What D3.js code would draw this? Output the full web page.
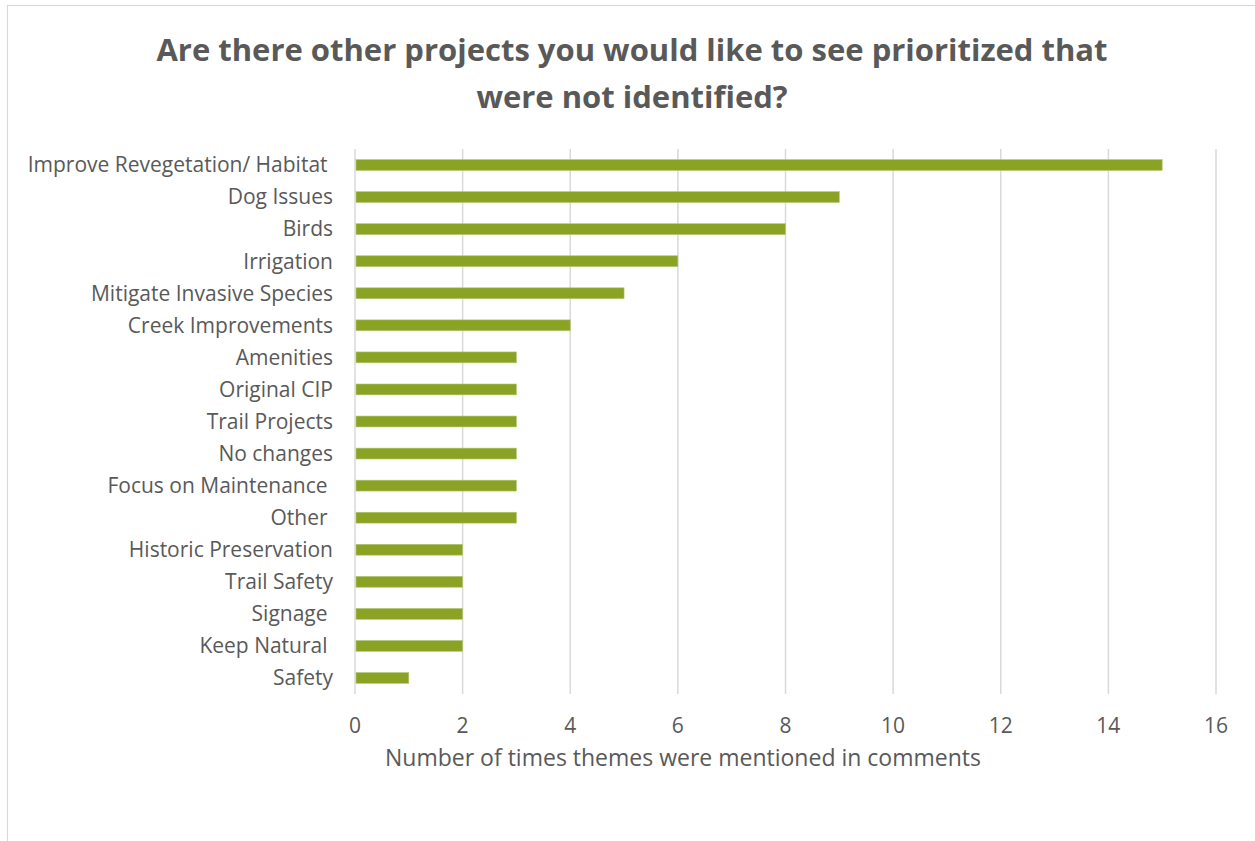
<!DOCTYPE html>
<html lang="en">
<head>
  <meta charset="UTF-8">
  <title>Prioritized projects</title>
  <script src="https://d3js.org/d3.v7.min.js"></script>
  <style>
    body { margin: 0; background: #fff; }
    text { font-family: "Open Sans", sans-serif; fill: #595959; }
  </style>
</head>
<body>
  <div id="container"></div>
  <script>
    // categories top to bottom, trailing spaces kept as in the source labels
    const categories = [
      'Improve Revegetation/ Habitat ', 'Dog Issues', 'Birds', 'Irrigation',
      'Mitigate Invasive Species', 'Creek Improvements', 'Amenities', 'Original CIP',
      'Trail Projects', 'No changes', 'Focus on Maintenance ', 'Other ',
      'Historic Preservation', 'Trail Safety', 'Signage ', 'Keep Natural ', 'Safety'
    ]
    const counts = [15, 9, 8, 6, 5, 4, 3, 3, 3, 3, 3, 3, 2, 2, 2, 2, 1]
    const xTicks = [0, 2, 4, 6, 8, 10, 12, 14, 16]
    const titleLines = ['Are there other projects you would like to see prioritized that', 'were not identified?']
    const xTitle = 'Number of times themes were mentioned in comments'

    const W = 1255, H = 841
    const m = {left: 355, right: 39, top: 149, bottom: 147}

    const svg = d3.select('#container').append('svg')
      .attr('width', W)
      .attr('height', H)

    svg.append('rect')
      .attr('x', 7.5).attr('y', 5.5)
      .attr('width', W + 10).attr('height', H + 10)
      .attr('fill', 'none')
      .attr('stroke', '#d9d9d9')
      .attr('stroke-width', 1.2)

    const x = d3.scaleLinear().domain([0, 16]).range([m.left, W - m.right])
    const y = d3.scaleBand().domain(categories).range([m.top, H - m.bottom]).paddingInner(0.66).paddingOuter(0.33)

    // gridlines
    svg.append('g').selectAll('line')
      .data(xTicks)
      .enter()
      .append('line')
        .attr('x1', d => x(d)).attr('x2', d => x(d))
        .attr('y1', m.top).attr('y2', H - m.bottom)
        .attr('stroke', '#d9d9d9')
        .attr('stroke-width', 1.5)

    svg.append('g').selectAll('rect')
      .data(counts)
      .enter()
      .append('rect')
        .attr('x', x(0) + 1)
        .attr('y', (d, i) => y(categories[i]))
        .attr('width', d => x(d) - x(0) - 1)
        .attr('height', y.bandwidth())
        .attr('fill', '#8ba325')
        .attr('stroke', '#b5c77a')
        .attr('stroke-width', 0.6)

    // category labels
    svg.append('g').selectAll('text')
      .data(categories)
      .enter()
      .append('text')
        .attr('x', 333)
        .attr('y', d => y(d) + y.bandwidth() / 2)
        .attr('dy', '0.35em')
        .attr('text-anchor', 'end')
        .style('white-space', 'pre')
        .style('font-size', '21px')
        .text(d => d)

    // x tick labels
    svg.append('g').selectAll('text')
      .data(xTicks)
      .enter()
      .append('text')
        .attr('x', d => x(d))
        .attr('y', 726)
        .attr('dy', '0.35em')
        .attr('text-anchor', 'middle')
        .style('font-size', '21px')
        .text(d => d)

    svg.append('text')
      .attr('x', 683)
      .attr('y', 758)
      .attr('dy', '0.35em')
      .attr('text-anchor', 'middle')
      .style('font-size', '23px')
      .text(xTitle)

    svg.append('g').selectAll('text')
      .data(titleLines)
      .enter()
      .append('text')
        .attr('x', 632)
        .attr('y', (d, i) => 50 + i * 47)
        .attr('dy', '0.35em')
        .attr('text-anchor', 'middle')
        .style('font-size', '31px')
        .style('font-weight', 'bold')
        .text(d => d)
  </script>
</body>
</html>
